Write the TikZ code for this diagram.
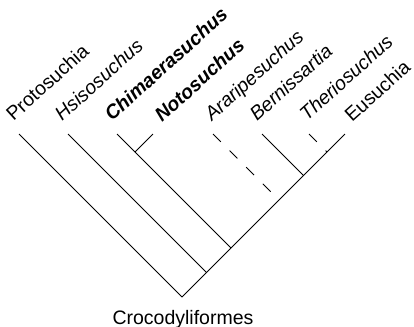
\documentclass[tikz,border=0pt]{standalone}
\usepackage{fontspec}
\setmainfont{Liberation Sans}
\begin{document}
\begin{tikzpicture}[x=1bp,y=-1bp,
  branch/.style={draw=black,line width=0.9bp},
  ghost/.style={branch,dash pattern=on 11bp off 12.5bp},
  taxon/.style={inner sep=0pt,anchor=base west,rotate=42,font=\fontsize{19.5bp}{22bp}\selectfont\itshape},
  key/.style={taxon,font=\fontsize{19.5bp}{22bp}\selectfont\bfseries\itshape},
  group/.style={taxon,font=\fontsize{19.5bp}{22bp}\selectfont\upshape}]
\useasboundingbox (0,0) rectangle (414,327);

% leaf tips
\coordinate (tProto) at (19,134);
\coordinate (tHsiso) at (68,134);
\coordinate (tChim)  at (117,134);
\coordinate (tNoto)  at (153,134);
\coordinate (tArar)  at (213,134);
\coordinate (tBern)  at (262,134);
\coordinate (tTher)  at (309,134);
\coordinate (tEusu)  at (345,134);

% internal nodes
\coordinate (root)  at (182,297);
\coordinate (nHsiso) at (206.5,272.5);
\coordinate (nChim) at (231,248);
\coordinate (nNoto) at (135,152);
\coordinate (nArar) at (279,200);
\coordinate (nBern) at (303.5,175.5);
\coordinate (nTher) at (327,152);

% spine and branches
\draw[branch] (root) -- (tEusu);
\draw[branch] (root) -- (tProto);
\draw[branch] (nHsiso) -- (tHsiso);
\draw[branch] (nChim) -- (tChim);
\draw[branch] (nNoto) -- (tNoto);
\draw[branch] (nBern) -- (tBern);
\draw[ghost] (tArar) -- (nArar);
\draw[ghost] (tTher) -- (nTher);

% taxon names
\node[group] (lProto) at (13.5,122) {Protosuchia};
\node[taxon] (lHsiso) at (62,122) {Hsisosuchus};
\node[key]   (lChim)  at (112,122) {Chimaerasuchus};
\node[key]   (lNoto)  at (162,123) {Notosuchus};
\node[taxon] (lArar)  at (212,122) {Araripesuchus};
\node[taxon] (lBern)  at (257,122) {Bernissartia};
\node[taxon] (lTher)  at (307,122) {Theriosuchus};
\node[group] (lEusu)  at (352,123) {Eusuchia};

\node[inner sep=0pt,anchor=base,font=\fontsize{19.5bp}{22bp}\selectfont] (lCroc) at (183,324) {Crocodyliformes};
\end{tikzpicture}
\end{document}
